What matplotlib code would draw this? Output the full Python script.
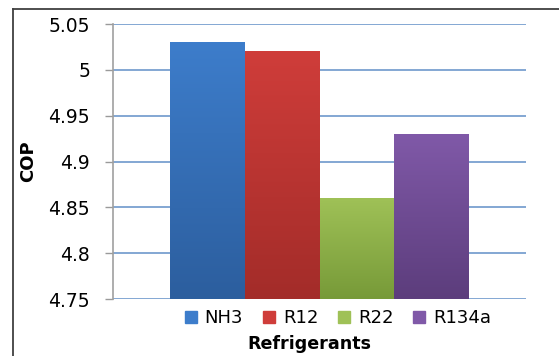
import numpy as np
import matplotlib.pyplot as plt
from matplotlib.lines import Line2D
from matplotlib.colors import LinearSegmentedColormap

refrigerants = ["NH3", "R12", "R22", "R134a"]
cop = [5.03, 5.02, 4.86, 4.93]
yticks = [4.75, 4.8, 4.85, 4.9, 4.95, 5.0, 5.05]
ytick_labels = ["4.75", "4.8", "4.85", "4.9", "4.95", "5", "5.05"]

# top / bottom shades for each bar
shades = [("#3d7dcb", "#2c5e9e"),
          ("#cf3d3a", "#a32c29"),
          ("#9fc157", "#779a38"),
          ("#8059a8", "#5c3d7c")]

W, H = 559, 356
fig = plt.figure(figsize=(W / 100, H / 100), dpi=100)
ax = fig.add_axes([113 / W, 1 - 299 / H, (526 - 113) / W, (299 - 24) / H])

ymin, ymax = 4.75, 5.05
x = np.arange(len(cop))
bars = ax.bar(x, [v - ymin for v in cop], bottom=ymin, width=1.0,
              color=[s[0] for s in shades], label=refrigerants, zorder=3)

# vertical gradient fill for each bar
grad = np.linspace(0, 1, 256).reshape(-1, 1)
for b, (top, bot) in zip(bars, shades):
    cmap = LinearSegmentedColormap.from_list("g", [bot, top])
    x0, w = b.get_x(), b.get_width()
    y0, h = b.get_y(), b.get_height()
    ax.imshow(grad, cmap=cmap, aspect="auto", origin="lower",
              extent=[x0, x0 + w, y0, y0 + h], zorder=3.5)

pad = 57 / 74.5
ax.set_xlim(-0.5 - pad, 3.5 + pad)
ax.set_ylim(ymin, ymax)
ax.set_yticks(yticks)
ax.set_yticklabels(ytick_labels, fontsize=13.5)
ax.set_xticks([])

ax.grid(axis="y", color="#7aa0d0", linewidth=1.3, zorder=0)
ax.tick_params(axis="y", length=6, width=1, color="#9a9a9a", pad=10.5)
for side in ["top", "right", "bottom"]:
    ax.spines[side].set_visible(False)
ax.spines["left"].set_color("#a0a0a0")
ax.spines["left"].set_linewidth(1.2)

fig.text(28 / W, 1 - 161 / H, "COP", rotation=90, ha="center", va="center",
         fontsize=13, fontweight="bold")

leg = fig.legend(handles=bars, labels=refrigerants, loc="center",
                 bbox_to_anchor=(338 / W, 1 - 318 / H), ncol=4, frameon=False,
                 fontsize=13, handlelength=0.65, handleheight=0.65,
                 handletextpad=0.45, columnspacing=1.1)
for patch, (top, bot) in zip(leg.get_patches(), shades):
    patch.set_color(top)

fig.text(309 / W, 1 - 344 / H, "Refrigerants", ha="center", va="center",
         fontsize=12.6, fontweight="bold")

# frame around the figure
fig.add_artist(Line2D([13 / W, 13 / W], [0, 1 - 9 / H], color="#404040",
                      linewidth=1.3, transform=fig.transFigure))
fig.add_artist(Line2D([13 / W, 1], [1 - 9 / H, 1 - 9 / H], color="#404040",
                      linewidth=1.3, transform=fig.transFigure))

fig.savefig("out.png", dpi=100)
